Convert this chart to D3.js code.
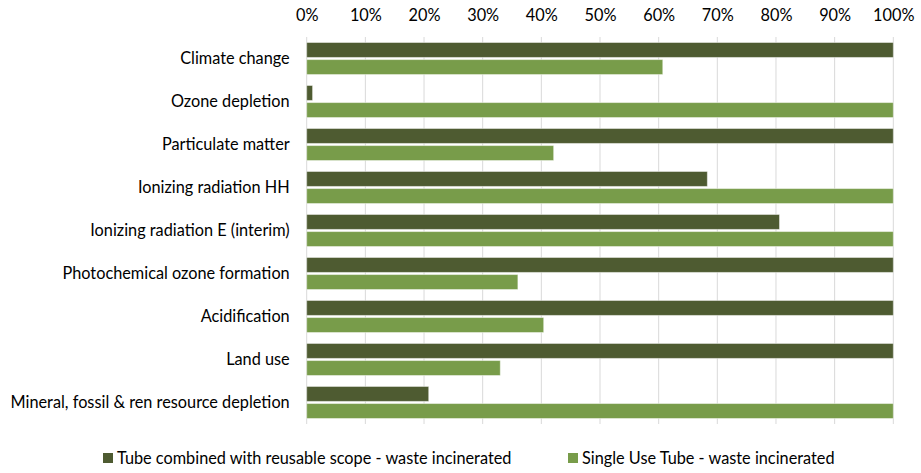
<!DOCTYPE html>
<html>
<head>
<meta charset="utf-8">
<script src="https://cdn.jsdelivr.net/npm/d3@7"></script>
<style>
  html, body { margin: 0; padding: 0; background: #fff; }
  svg { display: block; }
  text { font-family: Lato, "Open Sans", sans-serif; fill: #000; }
</style>
</head>
<body>
<svg id="chart" width="921" height="473"></svg>
<script>
const categories = [
  "Climate change",
  "Ozone depletion",
  "Particulate matter",
  "Ionizing radiation HH",
  "Ionizing radiation E (interim)",
  "Photochemical ozone formation",
  "Acidification",
  "Land use",
  "Mineral, fossil & ren resource depletion"
];
const seriesNames = [
  "Tube combined with reusable scope - waste incinerated",
  "Single Use Tube - waste incinerated"
];
const reusableValues = [100, 1, 100, 68.3, 80.6, 100, 100, 100, 20.8];
const singleUseValues = [60.7, 100, 42.1, 100, 100, 36.0, 40.4, 33.0, 100];
const tickValues = [0, 10, 20, 30, 40, 50, 60, 70, 80, 90, 100];
const colors = ["#4e5b31", "#789c4a"];

const FS = 16.3;
const svg = d3.select("#chart");
const plotLeft = 306.7, plotRight = 893.3, plotTop = 37, plotBottom = 424;

const x = d3.scaleLinear().domain([0, 100]).range([plotLeft, plotRight]);
const y = d3.scaleBand().domain(categories).range([plotTop, plotBottom]).paddingInner(0.255).paddingOuter(0.128);
const sub = d3.scaleBand().domain([0, 1]).range([0, y.bandwidth()]).paddingInner(0.125);

// gridlines
svg.append("g").selectAll("line").data(tickValues).join("line")
  .attr("x1", d => x(d)).attr("x2", d => x(d))
  .attr("y1", plotTop).attr("y2", plotBottom)
  .attr("stroke", "#d9d9d9").attr("stroke-width", 1);

// top axis labels
const axis = d3.axisTop(x).tickValues(tickValues).tickFormat(d => d + "%").tickSize(0).tickPadding(0);
const ag = svg.append("g").attr("transform", "translate(0,20.5)").call(axis);
ag.select(".domain").remove();
ag.selectAll("text").attr("font-size", FS).attr("font-family", "Lato, sans-serif").attr("fill", "#000").attr("dy", 0);

// bars
const data = categories.map((c, i) => ({ c, v: [reusableValues[i], singleUseValues[i]] }));
const groups = svg.append("g").selectAll("g").data(data).join("g")
  .attr("transform", d => `translate(0,${y(d.c)})`);
groups.selectAll("rect").data(d => d.v.map((v, k) => ({ v, k }))).join("rect")
  .attr("x", x(0))
  .attr("y", d => sub(d.k))
  .attr("width", d => x(d.v) - x(0))
  .attr("height", sub.bandwidth())
  .attr("fill", d => colors[d.k])
  .attr("stroke", "rgba(255,255,255,0.45)")
  .attr("stroke-width", 1);

// category labels
const yAxis = d3.axisLeft(y).tickSize(0).tickPadding(17);
const yg = svg.append("g").attr("transform", `translate(${plotLeft},0)`).call(yAxis);
yg.select(".domain").remove();
yg.selectAll("text").attr("font-size", FS).attr("font-family", "Lato, sans-serif").attr("fill", "#000");

// legend
const legendX = [103, 568];
const lg = svg.append("g").selectAll("g").data(seriesNames).join("g")
  .attr("transform", (d, i) => `translate(${legendX[i]},453)`);
lg.append("rect").attr("width", 10).attr("height", 10).attr("fill", (d, i) => colors[i]);
lg.append("text").attr("x", 14).attr("y", 11).attr("font-size", FS).text(d => d);
</script>
</body>
</html>
